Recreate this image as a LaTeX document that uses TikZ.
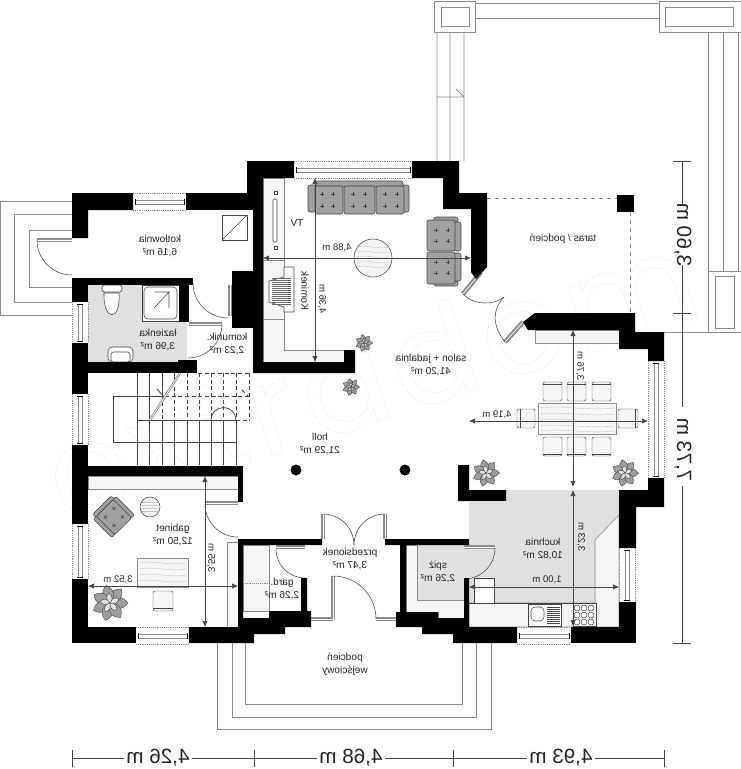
\documentclass[tikz,border=0pt]{standalone}
\usepackage{fontspec}
\setmainfont{Liberation Sans}
\newfontfamily\markfont[LetterSpace=6]{Poppins}
\usetikzlibrary{arrows.meta}
\definecolor{floorgray}{HTML}{E0E0E0}
\definecolor{shelfgray}{HTML}{F5F5F5}
\definecolor{softgray}{HTML}{8C8C8C}
\definecolor{sofagray}{HTML}{A0A0A0}
\definecolor{darkgray}{HTML}{444444}
\tikzset{
  wall/.style={fill=black},
  shelf/.style={fill=shelfgray,draw=softgray,line width=.4pt},
  fixture/.style={fill=white,draw=darkgray,line width=.4pt},
  outline/.style={draw=softgray,line width=.7pt},
  leaf/.style={draw=softgray,line width=1.5pt,double=white,double distance=.5pt},
  swing/.style={draw=darkgray,line width=.4pt},
  stair/.style={draw=darkgray,line width=.6pt},
  hidden/.style={draw=darkgray,line width=.6pt,densely dashed},
  sofa/.style={fill=sofagray,draw=darkgray,line width=.4pt,rounded corners=1.5pt},
  petal/.style={fill=black!38,draw=darkgray,line width=.3pt},
  chair/.style={fill=shelfgray,draw=darkgray,line width=.35pt,rounded corners=1.5pt},
  board/.style={fill=shelfgray,draw=softgray,line width=.4pt},
  wood/.style={draw=black!22,line width=.3pt},
  measure/.style={draw=darkgray,line width=.5pt,{Latex[length=4.5pt,width=4pt]}-{Latex[length=4.5pt,width=4pt]}},
  dimline/.style={draw=darkgray,line width=.6pt},
  room/.style={xscale=-1,align=center,inner sep=0pt,font=\fontsize{7.6}{9.8}\selectfont,text=black!85},
  small/.style={room,font=\fontsize{7.2}{9}\selectfont},
  large/.style={room,font=\fontsize{15.5}{17}\selectfont},
}
\newcommand{\hwin}[3]{
  \draw[draw=softgray,line width=.4pt,densely dotted] (#1,#3)--(#2,#3) (#1,#3+17)--(#2,#3+17);
  \draw[draw=softgray,line width=.5pt] (#1+2,#3+7) rectangle (#2-2,#3+11);
  \draw[draw=black,line width=.6pt] (#1+2,#3+6)--(#1+2,#3+12) (#2-2,#3+6)--(#2-2,#3+12);
}
\newcommand{\vwin}[3]{
  \draw[draw=softgray,line width=.4pt,densely dotted] (#1,#2)--(#1,#3) (#1+16,#2)--(#1+16,#3);
  \draw[draw=softgray,line width=.5pt] (#1+6,#2+2) rectangle (#1+10,#3-2);
  \draw[draw=black,line width=.6pt] (#1+5,#2+2)--(#1+11,#2+2) (#1+5,#3-2)--(#1+11,#3-2);
}
\newcommand{\tuft}[3]{
  \begin{scope}[shift={(#1,#2)},scale=#3]
    \foreach \a in {0,51,...,306}
      \draw[petal,rotate=\a] (0,0) .. controls (3,-4) and (7,-4) .. (10,0) .. controls (7,4) and (3,4) .. (0,0);
    \foreach \a in {25,97,...,313}
      \draw[petal,fill=black!12,rotate=\a] (0,0) .. controls (1.5,-2) and (4,-2) .. (5.5,0) .. controls (4,2) and (1.5,2) .. (0,0);
  \end{scope}
}
\newcommand{\tacks}[4]{
  \foreach \tx in {#1,#2}
    \foreach \ty in {#3,#4}
      \draw[draw=black!70,line width=.3pt] (\tx-2,\ty)--(\tx+2,\ty) (\tx,\ty-2)--(\tx,\ty+2);
}
\begin{document}
\begin{tikzpicture}[x=.75pt,y=-.75pt]
\useasboundingbox (0,0) rectangle (741,769);
\fill[white] (0,0) rectangle (741,769);
\node[rotate=18,inner sep=0pt,text=black!5,font=\markfont\fontsize{96}{96}\selectfont] (watermark) at (370,375) {\special{pdf:code 1 Tr 0.4 w}extradom\special{pdf:code 0 Tr}};

\fill[floorgray] (88,285) rectangle (187,362);
\fill[floorgray] (469,502)--(506,502)--(506,490)--(619,490)--(619,515)--(595,540)--(595,603)--(469,603)--cycle;
\fill[floorgray] (417,545)--(469,545)--(469,578)--(464,578)--(464,600)--(417,600)--cycle;
\draw[shelf] (619,515)--(595,540)--(595,603)--(469,603)--(469,627)--(619,627)--cycle;
\draw[shelf] (406,545)--(417,545)--(417,600)--(464,600)--(464,618)--(438,618)--(438,612)--(406,612)--cycle;
\draw[shelf] (263,178)--(284,178)--(284,350)--(344,350)--(344,362)--(263,362)--cycle;
\draw[shelf] (263,260)--(284,260) (263,319)--(284,319);
\draw[shelf] (535,330) rectangle (619,343);
\draw[shelf] (88,476) rectangle (238,489);
\draw[shelf] (227,542) rectangle (238,627);
\draw[shelf] (243,545) rectangle (269,611);
\draw[draw=softgray,line width=.4pt,densely dotted] (243,583)--(269,583);

\draw[outline] (72,201)--(0,201)--(0,315)--(72,315);
\draw[outline] (72,214)--(14,214)--(14,302)--(72,302);
\draw[outline] (72,230)--(29,230)--(29,287)--(72,287);
\draw[outline] (434,1) rectangle (475,32);
\draw[outline] (441,7) rectangle (469,26);
\draw[outline] (475,3)--(659,3) (475,18)--(659,18);
\draw[outline] (659,1) rectangle (742,32);
\draw[outline] (665,7) rectangle (733,26);
\draw[outline] (437,32)--(437,161) (450,32)--(450,161) (464,32)--(464,161) (437,97)--(464,97) (456,89)--(464,97);
\draw[outline] (708,32)--(708,271) (723,32)--(723,271) (738,32)--(738,271);
\draw[outline] (708,271)--(742,271) (708,271)--(708,332) (635,332)--(742,332);
\draw[outline] (715,276) rectangle (734,328);
\draw[outline] (217,643)--(217,729)--(491,729)--(491,643);
\draw[outline] (232,643)--(232,717)--(476,717)--(476,643);
\draw[outline] (245,643)--(245,704)--(462,704)--(462,643);
\draw[draw=softgray,line width=.6pt,dashed] (487,198)--(617,198) (630,212)--(630,313);

\foreach \tx in {137,149,162,174,187,199,211,223,236}
  \draw[stair] (\tx,420)--(\tx,465);
\draw[stair] (137,373)--(137,420) (149,373)--(149,420) (162,373)--(162,402) (174,373)--(174,380);
\draw[hidden] (162,402)--(162,420) (174,380)--(174,420);
\foreach \tx in {187,199,211,223,236,249}
  \draw[hidden] (\tx,373)--(\tx,420);
\draw[stair] (113,396)--(165,396) (137,420)--(236,420) (113,442)--(236,442) (113,396)--(113,442);
\draw[hidden] (165,396)--(249,396) (236,420)--(249,420) (198,373)--(249,373);
\draw[stair] (157,389)--(164,397) (211,420) arc[start angle=180,end angle=360,radius=12.5];
\draw[hidden] (242,390)--(248,396);
\draw[draw=softgray,line width=1.8pt] (180,373)--(150,420);
\draw[draw=white,line width=.5pt] (180,373)--(150,420);

\hwin{133}{186}{193}
\hwin{294}{412}{161}
\hwin{136}{189}{627}
\hwin{517}{571}{627}
\vwin{72}{302}{343}
\vwin{72}{394}{445}
\vwin{72}{524}{579}
\vwin{619}{548}{602}
\vwin{648}{361}{478}

\draw[leaf] (37,240)--(72,240);
\draw[swing] (37,240) arc[start angle=180,end angle=90,radius=35];
\draw[leaf] (230,285)--(230,316);
\draw[swing] (193,283) arc[start angle=180,end angle=90,radius=35];
\draw[leaf] (189,324)--(222,324);
\draw[swing] (222,324) arc[start angle=0,end angle=90,radius=34];
\draw[leaf] (206,503)--(238,503);
\draw[swing] (205,504) arc[start angle=180,end angle=90,radius=33];
\draw[leaf] (276,547)--(305,547);
\draw[swing] (276,549) arc[start angle=180,end angle=90,radius=29];
\draw[leaf] (323,514)--(323,539) (385,514)--(385,539);
\draw[swing] (323,514) arc[start angle=-90,end angle=0,radius=31];
\draw[swing] (385,514) arc[start angle=270,end angle=180,radius=31];
\draw[leaf] (333,576)--(333,619) (311,619)--(333,619) (376,619)--(396,619);
\draw[swing] (333,576) arc[start angle=-90,end angle=0,radius=43];
\draw[leaf] (464,547)--(495,547);
\draw[swing] (495,548) arc[start angle=0,end angle=90,radius=31];
\draw[leaf] (481,272)--(463,294) (523,322)--(505,342);
\draw[swing] (463,294) .. controls (473,305) and (493,306) .. (504,297);
\draw[swing] (505,342) .. controls (492,325) and (492,310) .. (504,297);

\draw[fixture] (142,285) rectangle (179,321);
\draw[fixture,rounded corners=3pt] (144,287) rectangle (177,319);
\draw[swing] (155,292)--(169,292)--(154,308) (169,292)--(169,308);
\draw[fixture,rounded corners=2pt] (102,285) rectangle (122,292);
\draw[fixture] (104,293) .. controls (103,322) and (121,322) .. (119,293)--cycle;
\draw[fixture,rounded corners=3pt] (108,347)--(133,347)--(133,362)--(108,362)--cycle;
\draw[fixture,rounded corners=2pt] (111,352) rectangle (130,362);
\draw[fixture] (222,215) rectangle (247,240);
\draw[swing] (222,240)--(247,215);

\draw[fixture] (474,578) rectangle (494,603);
\draw[swing] (469,603)--(595,603) (474,578)--(474,603);
\draw[fixture] (528,604) rectangle (561,626);
\draw[fixture,rounded corners=3pt] (531,607) rectangle (544,621);
\foreach \ty in {607,609,...,623}
  \draw[swing] (547,\ty)--(560,\ty);
\draw[fixture] (573,603) rectangle (596,626);
\foreach \tx in {577,584,591}
  \foreach \ty in {608,615,622}
    \draw[swing] (\tx,\ty) circle[radius=3];

\draw[fixture] (276,193) ++(-1.5,-1.5) rectangle ++(3,3);
\draw[fixture] (276,248) ++(-1.5,-1.5) rectangle ++(3,3);
\draw[fixture,rounded corners=1pt] (273,199) rectangle (277,242);
\draw[fixture] (294,267)--(284,267)--(284,277)--(269,281)--(269,302)--(284,307)--(284,312)--(294,312)--cycle;
\foreach \ty in {278,280,...,304}
  \draw[draw=black!60,line width=.3pt] (272,\ty)--(291,\ty);

\draw[sofa] (308,185) rectangle (316,212);
\draw[sofa] (401,185) rectangle (409,212);
\draw[sofa] (316,181) rectangle (403,187);
\draw[sofa] (315,186) rectangle (343,214);
\draw[sofa] (344,186) rectangle (375,214);
\draw[sofa] (376,186) rectangle (404,214);
\tacks{322}{333}{194}{206}
\tacks{353}{365}{194}{206}
\tacks{385}{397}{194}{206}
\draw[sofa] (434,217) rectangle (458,222);
\draw[sofa] (434,281) rectangle (458,286);
\draw[sofa] (454,222) rectangle (461,251);
\draw[sofa] (454,253) rectangle (461,281);
\draw[sofa] (427,220) rectangle (455,251);
\draw[sofa] (427,252) rectangle (455,284);
\tacks{436}{448}{230}{241}
\tacks{436}{448}{262}{273}
\draw[fixture,fill=shelfgray] (373,258) circle[radius=19];
\foreach \ty in {247,252,257,262,267}
  \draw[wood] (357,\ty) .. controls (367,\ty-3) and (378,\ty+3) .. (389,\ty);

\draw[board] (538,403) rectangle (616,434);
\foreach \ty in {408,414,420,426,431}
  \draw[wood] (540,\ty) .. controls (560,\ty-3) and (590,\ty+3) .. (614,\ty);
\foreach \tx in {543,567,592} {
  \draw[chair] (\tx,382) rectangle (\tx+19,401);
  \draw[swing] (\tx,384)--(\tx+19,384);
  \draw[chair] (\tx,437) rectangle (\tx+19,456);
  \draw[swing] (\tx,454)--(\tx+19,454);
}
\draw[chair] (517,409) rectangle (535,428);
\draw[swing] (520,409)--(520,428);
\draw[chair] (618,409) rectangle (638,428);
\draw[swing] (635,409)--(635,428);

\draw[board] (137,558) rectangle (188,587);
\foreach \ty in {563,569,575,581}
  \draw[wood] (139,\ty) .. controls (152,\ty-3) and (172,\ty+3) .. (186,\ty);
\draw[chair] (153,591) rectangle (173,611);
\draw[swing] (153,608)--(173,608);
\draw[fixture,fill=shelfgray] (150,507) circle[radius=10];
\foreach \ty in {502,505,508,511}
  \draw[wood] (142,\ty)--(158,\ty);
\begin{scope}[shift={(114,517)},rotate=45]
  \draw[sofa] (-16,-13) rectangle (-11,13);
  \draw[sofa] (11,-13) rectangle (16,13);
  \draw[sofa] (-13,-17) rectangle (13,-12);
  \draw[sofa] (-12,-13) rectangle (12,13);
  \tacks{-6}{6}{-6}{6}
\end{scope}

\tuft{364}{343}{.85}
\tuft{351}{387}{.85}
\tuft{486}{473}{1.35}
\tuft{625}{473}{1.35}
\tuft{110}{603}{1.8}
\fill[black] (296,470) circle[radius=5.5] (405,470) circle[radius=5.5];

\draw[measure] (263,258)--(471,258);
\draw[measure] (315,178)--(315,362);
\draw[measure] (469,421)--(648,421);
\draw[measure] (573,330)--(573,487);
\draw[measure] (573,490)--(573,626);
\draw[measure] (469,587)--(619,587);
\draw[measure] (88,586)--(238,586);
\draw[measure] (205,476)--(205,627);

\fill[wall] (72,193)--(133,193)--(133,210)--(88,210)--(88,238)--(72,238)--cycle;
\fill[wall] (186,193) rectangle (253,210);
\fill[wall] (247,161)--(294,161)--(294,178)--(263,178)--(263,362)--(344,362)--(344,350)--(355,350)--(355,373)--(253,373)--(253,193)--(247,193)--cycle;
\fill[wall] (232,271) rectangle (253,328);
\fill[wall] (72,278) rectangle (193,285);
\fill[wall] (72,278) rectangle (88,302);
\fill[wall] (179,285) rectangle (189,322);
\fill[wall] (72,343) rectangle (88,394);
\fill[wall] (72,362) rectangle (197,373);
\fill[wall] (178,360) rectangle (197,362);
\fill[wall] (72,445) rectangle (88,524);
\fill[wall] (72,466) rectangle (243,476);
\fill[wall] (238,476) rectangle (243,502);
\fill[wall] (72,579) rectangle (88,643);
\fill[wall] (72,627) rectangle (136,643);
\fill[wall] (238,539)--(322,539)--(322,545)--(243,545)--(243,618)--(269,618)--(269,611)--(301,611)--(301,578)--(307,578)--(307,611)--(311,611)--(311,627)--(285,627)--(285,634)--(254,634)--(254,643)--(189,643)--(189,627)--(238,627)--cycle;
\fill[wall] (385,539)--(469,539)--(469,545)--(406,545)--(406,612)--(438,612)--(438,618)--(464,618)--(464,578)--(469,578)--(469,627)--(517,627)--(517,643)--(453,643)--(453,634)--(422,634)--(422,627)--(396,627)--(396,612)--(400,612)--(400,545)--(385,545)--cycle;
\fill[wall] (571,627) rectangle (636,643);
\fill[wall] (619,602) rectangle (636,627);
\fill[wall] (619,490)--(648,490)--(648,478)--(664,478)--(664,507)--(636,507)--(636,548)--(619,548)--cycle;
\fill[wall] (535,313)--(635,313)--(635,332)--(664,332)--(664,361)--(648,361)--(648,349)--(619,349)--(619,330)--(528,330)--(523,322)--cycle;
\fill[wall] (458,465)--(469,465)--(469,490)--(506,490)--(506,501)--(458,501)--cycle;
\fill[wall] (412,161)--(459,161)--(459,193)--(487,193)--(487,267)--(476,279)--(471,272)--(471,209)--(443,209)--(443,178)--(412,178)--cycle;
\fill[wall] (617,195) rectangle (634,212);

\draw[dimline] (72,750)--(72,767) (254,750)--(254,767) (453,750)--(453,767) (664,750)--(664,767);
\draw[dimline] (72,758)--(124,758) (192,758)--(254,758) (254,758)--(317,758) (385,758)--(453,758) (453,758)--(527,758) (595,758)--(664,758);
\draw[dimline] (673,161)--(691,161) (673,313)--(691,313) (673,643)--(691,643);
\draw[dimline] (682,161)--(682,205) (682,265)--(682,407) (682,486)--(682,643);
\node[large] (lenA) at (158,758) {4,26 m};
\node[large] (lenB) at (351,758) {4,68 m};
\node[large] (lenC) at (561,758) {4,93 m};
\node[large,rotate=90] (lenD) at (683,235) {3,60 m};
\node[large,rotate=90] (lenE) at (683,450) {7,73 m};

\node[room] (kotlownia) at (160,246) {kotłownia\\6,16 m²};
\node[room] (lazienka) at (158,340) {łazienka\\3,96 m²};
\node[room] (komunik) at (227,344) {komunik.\\2,23 m²};
\node[room] (salon) at (431,365) {salon + jadalnia\\41,20 m²};
\node[room] (holl) at (320,444) {holl\\21,29 m²};
\node[room] (gabinet) at (173,535) {gabinet\\12,50 m²};
\node[room] (gard) at (282,589) {gard.\\2,26 m²};
\node[room] (przedsionek) at (350,559) {przedsionek\\3,47 m²};
\node[room] (spiz) at (438,572) {spiż\\2,26 m²};
\node[room] (kuchnia) at (543,549) {kuchnia\\10,82 m²};
\node[room] (podcien) at (345,664) {podcień\\wejściowy};
\node[room] (taras) at (563,239) {taras / podcień};
\node[room] (tv) at (297,223) {TV};
\node[room,rotate=90] (kominek) at (305,291) {Kominek};
\node[small] (dimA) at (337,248) {4,88 m};
\node[small,rotate=90] (dimB) at (322,299) {4,36 m};
\node[small] (dimC) at (497,415) {4,19 m};
\node[small,rotate=90] (dimD) at (580,366) {3,76 m};
\node[small,rotate=90] (dimE) at (581,537) {3,23 m};
\node[small] (dimF) at (547,580) {1,00 m};
\node[small] (dimG) at (118,580) {3,52 m};
\node[small,rotate=90] (dimH) at (211,558) {3,55 m};
\end{tikzpicture}
\end{document}
